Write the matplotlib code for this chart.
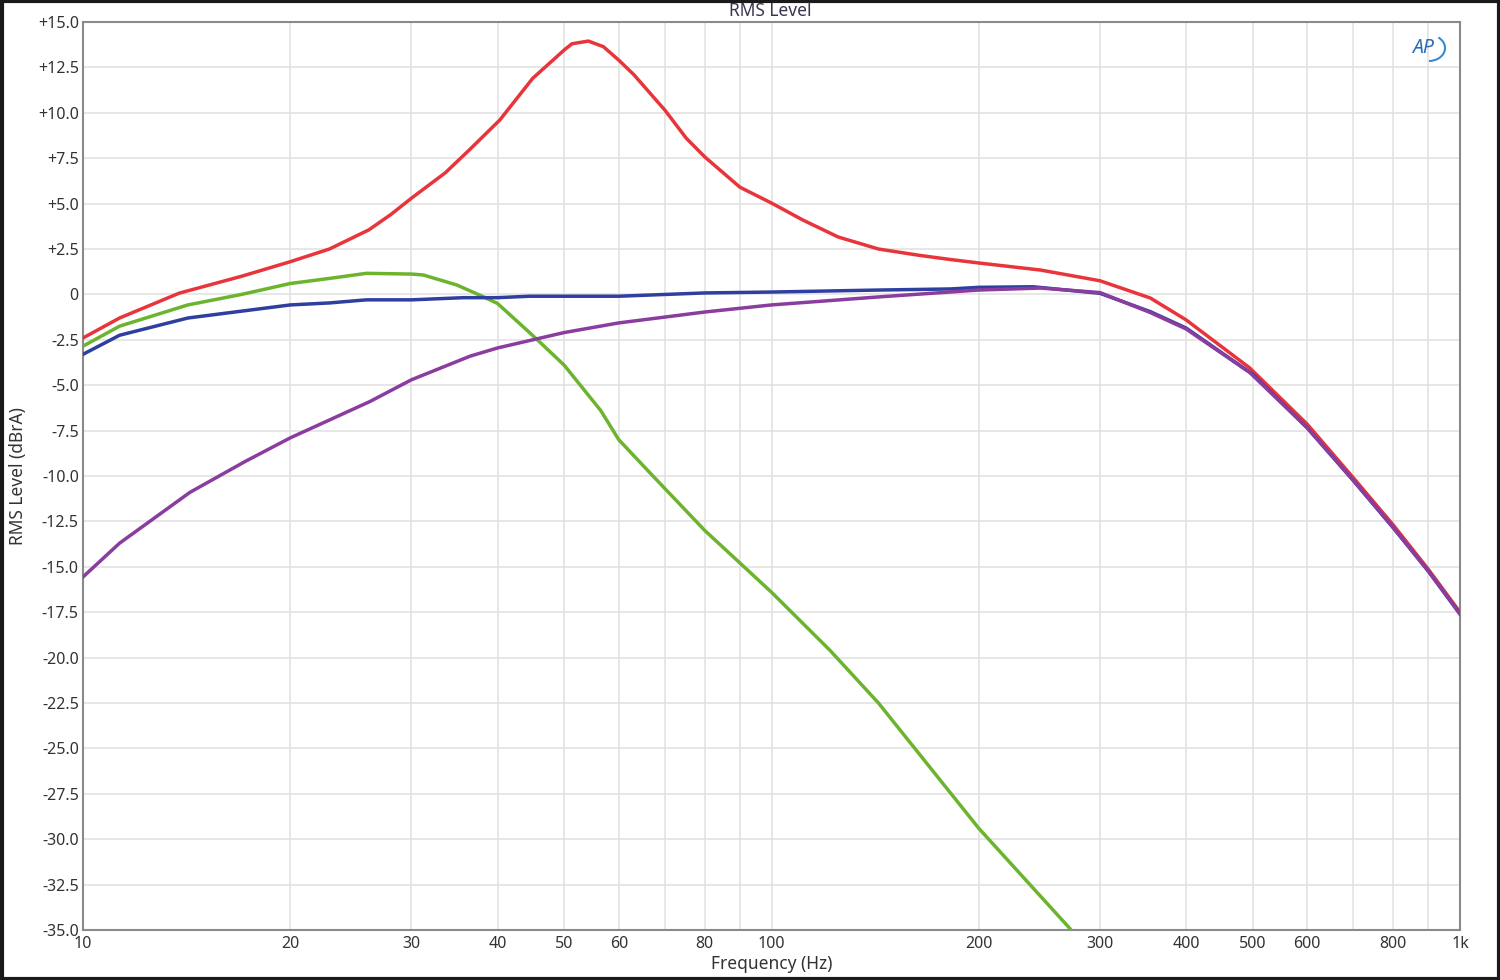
import numpy as np
import matplotlib
matplotlib.use("Agg")
import matplotlib.pyplot as plt
from matplotlib.patches import Rectangle, Arc
from matplotlib.ticker import FixedLocator, NullFormatter

plt.rcParams['font.family'] = ['Noto Sans', 'DejaVu Sans']

# ---- data ----
red_f = [10, 11.3, 13.8, 17, 20, 22.8, 26, 28, 30, 33.6, 36.5, 40.3, 45, 50, 51.3, 54.2, 57, 60, 63.1,
         70, 75.2, 80, 90, 100, 111, 125, 143, 164, 182, 200, 246, 300, 355, 400, 495, 600, 700, 800, 900, 1000]
red_db = [-2.4, -1.3, 0.07, 1.0, 1.8, 2.5, 3.55, 4.4, 5.3, 6.7, 8.0, 9.6, 11.9, 13.46, 13.8, 13.95, 13.64, 12.9, 12.1,
          10.15, 8.6, 7.57, 5.9, 5.03, 4.1, 3.16, 2.5, 2.15, 1.92, 1.73, 1.34, 0.75, -0.2, -1.4, -4.05, -7.15, -10.1, -12.7, -15.15, -17.5]

green_f = [10, 11.3, 14.2, 17, 20, 22.8, 25.8, 30, 31.2, 34.9, 38.1, 40, 44.1, 46, 50, 56.5, 60, 66.5, 80,
           100, 121.6, 143, 200, 271, 300]
green_db = [-2.85, -1.75, -0.58, 0.0, 0.6, 0.88, 1.16, 1.12, 1.07, 0.52, -0.12, -0.5, -1.96, -2.6, -3.9, -6.4, -8.0, -9.8, -13.0,
            -16.4, -19.6, -22.5, -29.4, -34.9, -36.9]

blue_f = [10, 11.3, 14.2, 20, 22.8, 25.8, 30, 35.7, 40, 44.5, 60, 80, 100, 143, 182, 200, 240, 300, 355, 400,
          500, 600, 700, 800, 900, 1000]
blue_db = [-3.3, -2.25, -1.3, -0.58, -0.47, -0.3, -0.3, -0.18, -0.18, -0.1, -0.1, 0.08, 0.13, 0.24, 0.3, 0.39, 0.42, 0.06, -0.95, -1.85,
           -4.4, -7.35, -10.25, -12.85, -15.25, -17.6]

purple_f = [10, 11.3, 14.3, 17.2, 20, 26.1, 30, 36.5, 40, 50, 60, 80, 100, 143, 200, 246, 300, 355, 400,
            495, 600, 700, 800, 900, 1000]
purple_db = [-15.56, -13.7, -10.9, -9.2, -7.9, -5.9, -4.7, -3.4, -2.95, -2.1, -1.57, -0.97, -0.58, -0.14, 0.24, 0.35, 0.1, -1.0, -1.9,
             -4.3, -7.35, -10.25, -12.85, -15.25, -17.6]

x_ticks = [10, 20, 30, 40, 50, 60, 80, 100, 200, 300, 400, 500, 600, 800, 1000]
x_labels = ['10', '20', '30', '40', '50', '60', '80', '100', '200', '300', '400', '500', '600', '800', '1k']
y_ticks = [15, 12.5, 10, 7.5, 5, 2.5, 0, -2.5, -5, -7.5, -10, -12.5, -15, -17.5, -20, -22.5, -25, -27.5, -30, -32.5, -35]

# ---- figure ----
W, H = 1500, 980
fig = plt.figure(figsize=(W / 100, H / 100), dpi=100)
ax = fig.add_axes([83 / W, 1 - 930 / H, (1460 - 83) / W, (930 - 22) / H])

ax.set_xscale('log')
ax.set_xlim(10, 1000)
ax.set_ylim(-35, 15)

grid_x = [m * 10 ** e for e in (1, 2) for m in range(1, 10)] + [1000]
ax.xaxis.set_major_locator(FixedLocator(x_ticks))
ax.set_xticklabels(x_labels)
ax.xaxis.set_minor_locator(FixedLocator([]))
ax.xaxis.set_minor_formatter(NullFormatter())
ax.set_yticks(y_ticks)
ax.set_yticklabels([('+%.1f' % v if v > 0 else ('0' if v == 0 else '%.1f' % v)) for v in y_ticks])

for gx in grid_x:
    ax.axvline(gx, color='#e0e0e0', lw=1.1, zorder=0)
for gy in y_ticks:
    ax.axhline(gy, color='#e0e0e0', lw=1.1, zorder=0)

ax.tick_params(axis='both', length=0, labelsize=11.5, colors='#333333', pad=3)
ax.tick_params(axis='x', pad=4)
for s in ax.spines.values():
    s.set_color('#8a8a8a')
    s.set_linewidth(1.5)

lw = 2.5
ax.plot(red_f, red_db, color='#e8353b', lw=lw, zorder=3, solid_joinstyle='round')
ax.plot(green_f, green_db, color='#6cb42e', lw=lw, zorder=3, solid_joinstyle='round')
ax.plot(blue_f, blue_db, color='#2f3f9f', lw=lw, zorder=4, solid_joinstyle='round')
ax.plot(purple_f, purple_db, color='#8b3c9f', lw=lw, zorder=4, solid_joinstyle='round')

ax.set_xlabel('Frequency (Hz)', fontsize=12.5, color='#333333', labelpad=0)
ax.xaxis.set_label_coords(0.5, -0.028)
ax.set_ylabel('RMS Level (dBrA)', fontsize=12.5, color='#333333')
ax.yaxis.set_label_coords(-0.041, 0.5)

fig.text(770 / W, 1 - 11 / H, 'RMS Level', ha='center', va='center', fontsize=12.5, color='#3a3550')

# AP logo
fig.text(1423 / W, 1 - 48 / H, 'AP', ha='center', va='center', fontsize=14, fontweight='bold',
         style='italic', color='#2a6db5')
fig.add_artist(Arc((1429 / W, 1 - 48 / H), 32 / W, 26 / H, theta1=-90, theta2=60,
                   transform=fig.transFigure, color='#3a8ad0', lw=1.5))

# outer frame
fig.add_artist(Rectangle((0.001, 0.001), 0.998, 0.998, transform=fig.transFigure,
                         fill=False, edgecolor='#1a1a1a', lw=3))

fig.savefig('out.png', dpi=100)
